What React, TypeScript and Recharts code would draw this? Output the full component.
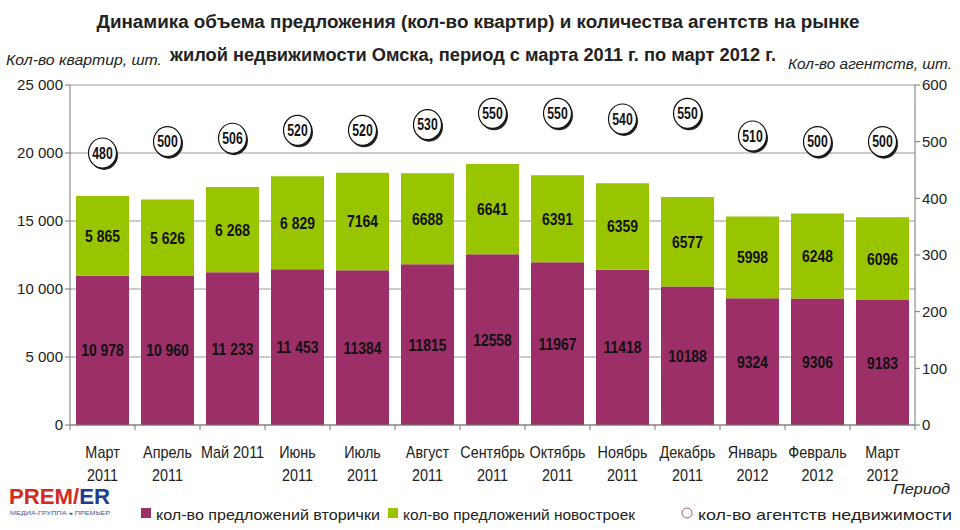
import React from 'react';
import { ComposedChart, Bar, Line, XAxis, YAxis, CartesianGrid, LabelList } from 'recharts';

const months = ['Март', 'Апрель', 'Май 2011', 'Июнь', 'Июль', 'Август', 'Сентябрь', 'Октябрь', 'Ноябрь', 'Декабрь', 'Январь', 'Февраль', 'Март'];
const years = ['2011', '2011', '', '2011', '2011', '2011', '2011', '2011', '2011', '2011', '2012', '2012', '2012'];
const secondary = [10978, 10960, 11233, 11453, 11384, 11815, 12558, 11967, 11418, 10188, 9324, 9306, 9183];
const newBuild = [5865, 5626, 6268, 6829, 7164, 6688, 6641, 6391, 6359, 6577, 5998, 6248, 6096];
const agencies = [480, 500, 506, 520, 520, 530, 550, 550, 540, 550, 510, 500, 500];
const leftTicks = [0, 5000, 10000, 15000, 20000, 25000];
const rightTicks = [0, 100, 200, 300, 400, 500, 600];

const data = months.map((m, i) => ({
    month: m,
    year: years[i],
    secondary: secondary[i],
    newBuild: newBuild[i],
    agencies: agencies[i],
}));

const PURPLE = '#9c2f68';
const GREEN = '#99c400';
const SANS = "'Liberation Sans', Arial, sans-serif";

const spaced = (n: number) => String(n).replace(/\B(?=(\d{3})+(?!\d))/g, ' ');
// the source only groups digits in the first four columns
const barLabel = (v: number, i: number) => (i < 4 ? spaced(v) : String(v));

// no narrow font installed, so squeeze Liberation Sans horizontally
const Squeezed = ({ x, y, size, sx = 0.82, anchor = 'middle', bold = false, italic = false, fill = '#111', children }: any) => (
    <text
        transform={`translate(${x},${y}) scale(${sx},1)`}
        textAnchor={anchor}
        dominantBaseline="central"
        fontSize={size}
        fontWeight={bold ? 'bold' : 'normal'}
        fontStyle={italic ? 'italic' : 'normal'}
        fontFamily={SANS}
        fill={fill}
    >
        {children}
    </text>
);

const MonthTick = (props: any) => {
    const { x, y, index, payload } = props;
    const half = 32.5;
    return (
        <g>
            <line x1={x - half} x2={x - half} y1={y - 5} y2={y} stroke="#777" />
            {index === months.length - 1 && <line x1={x + half} x2={x + half} y1={y - 5} y2={y} stroke="#777" />}
            <Squeezed x={x} y={y + 22} size={16} sx={0.9} fill="#222">{payload.value}</Squeezed>
            <Squeezed x={x} y={y + 45} size={16} sx={0.9} fill="#222">{years[index]}</Squeezed>
        </g>
    );
};

const segLabel = (props: any) => {
    const { x, y, width, height, value, index } = props;
    return (
        <Squeezed x={x + width / 2} y={y + height / 2} size={17} bold>
            {barLabel(value, index)}
        </Squeezed>
    );
};

const AgencyDot = (props: any) => {
    const { cx, cy, value, index } = props;
    if (cx == null || cy == null) return null;
    return (
        <g key={`dot-${index}`}>
            <ellipse cx={cx + 1.5} cy={cy + 2} rx={14} ry={15} fill="#222" />
            <ellipse cx={cx} cy={cy} rx={14} ry={15} fill="#fff" stroke="#111" strokeWidth={1.2} />
            <Squeezed x={cx} y={cy} size={17} sx={0.72} bold>{value}</Squeezed>
        </g>
    );
};

const App = () => {
    return (
        <div style={{ position: 'absolute', left: 0, top: 0, width: 960, height: 530, background: '#fff' }}>
            <ComposedChart
                width={960}
                height={530}
                data={data}
                margin={{ top: 85, right: 5, bottom: 0, left: 8 }}
                barCategoryGap={6}
            >
                <CartesianGrid yAxisId="left" vertical={false} stroke="#999" />
                <XAxis
                    dataKey="month"
                    height={105}
                    tickLine={false}
                    tickSize={5}
                    tickMargin={0}
                    axisLine={{ stroke: '#777' }}
                    tick={<MonthTick />}
                    interval={0}
                />
                <YAxis
                    yAxisId="left"
                    domain={[0, 25000]}
                    ticks={leftTicks}
                    width={62}
                    tickFormatter={spaced}
                    axisLine={{ stroke: '#777' }}
                    tickLine={{ stroke: '#777' }}
                    tickSize={5}
                    tick={{ fill: '#222', fontSize: 15, fontFamily: SANS }}
                />
                <YAxis
                    yAxisId="right"
                    orientation="right"
                    domain={[0, 600]}
                    ticks={rightTicks}
                    width={40}
                    axisLine={{ stroke: '#777' }}
                    tickLine={{ stroke: '#777' }}
                    tickSize={5}
                    tick={{ fill: '#222', fontSize: 15, fontFamily: SANS, textAnchor: 'start' }}
                />
                <Bar yAxisId="left" dataKey="secondary" stackId="a" fill={PURPLE} isAnimationActive={false}>
                    <LabelList dataKey="secondary" content={segLabel} />
                </Bar>
                <Bar yAxisId="left" dataKey="newBuild" stackId="a" fill={GREEN} isAnimationActive={false}>
                    <LabelList dataKey="newBuild" content={segLabel} />
                </Bar>
                <Line
                    yAxisId="right"
                    dataKey="agencies"
                    stroke="none"
                    dot={AgencyDot}
                    activeDot={false}
                    isAnimationActive={false}
                />
            </ComposedChart>
            <svg width={960} height={530} style={{ position: 'absolute', left: 0, top: 0, pointerEvents: 'none' }}>
                <text x={478} y={22} textAnchor="middle" dominantBaseline="central" fontSize={18} fontWeight="bold" fontFamily={SANS} fill="#222" textLength={763} lengthAdjust="spacingAndGlyphs">
                    Динамика объема предложения (кол-во квартир) и количества агентств на рынке
                </text>
                <text x={473} y={55} textAnchor="middle" dominantBaseline="central" fontSize={18} fontWeight="bold" fontFamily={SANS} fill="#222" textLength={606} lengthAdjust="spacingAndGlyphs">
                    жилой недвижимости Омска, период с  марта 2011 г. по март 2012 г.
                </text>
                <text x={6} y={60} dominantBaseline="central" fontSize={14} fontStyle="italic" fontFamily={SANS} fill="#222" textLength={156} lengthAdjust="spacingAndGlyphs">
                    Кол-во квартир, шт.
                </text>
                <text x={788} y={64} dominantBaseline="central" fontSize={14} fontStyle="italic" fontFamily={SANS} fill="#222" textLength={164} lengthAdjust="spacingAndGlyphs">
                    Кол-во агентств, шт.
                </text>
                <text x={950} y={488} textAnchor="end" dominantBaseline="central" fontSize={15} fontStyle="italic" fontFamily={SANS} fill="#222" textLength={57} lengthAdjust="spacingAndGlyphs">
                    Период
                </text>
                {/* legend */}
                <rect x={141} y={508} width={10} height={10} fill={PURPLE} />
                <text x={156} y={514} dominantBaseline="central" fontSize={15} fontFamily={SANS} fill="#222" textLength={224} lengthAdjust="spacingAndGlyphs">
                    кол-во предложений вторички
                </text>
                <rect x={388} y={508} width={10} height={10} fill={GREEN} />
                <text x={403} y={514} dominantBaseline="central" fontSize={15} fontFamily={SANS} fill="#222" textLength={232} lengthAdjust="spacingAndGlyphs">
                    кол-во предложений новостроек
                </text>
                <circle cx={687} cy={513} r={5} fill="#fff" stroke="#b05a80" />
                <text x={698} y={514} dominantBaseline="central" fontSize={15} fontFamily={SANS} fill="#222" textLength={254} lengthAdjust="spacingAndGlyphs">
                    кол-во агентств недвижимости
                </text>
                {/* logo */}
                <text x={9} y={504} fontSize={22} fontWeight="900" fontFamily={SANS} textLength={101} lengthAdjust="spacingAndGlyphs">
                    <tspan fill="#d42a20">PREM/</tspan>
                    <tspan fill="#1e3d8f">ER</tspan>
                </text>
                <text x={10} y={515} fontSize={5} fontFamily={SANS} fill="#3a5aa0" textLength={100} lengthAdjust="spacingAndGlyphs">
                    МЕДИА-ГРУППА ● ПРЕМЬЕР
                </text>
            </svg>
        </div>
    );
};

export default App;
